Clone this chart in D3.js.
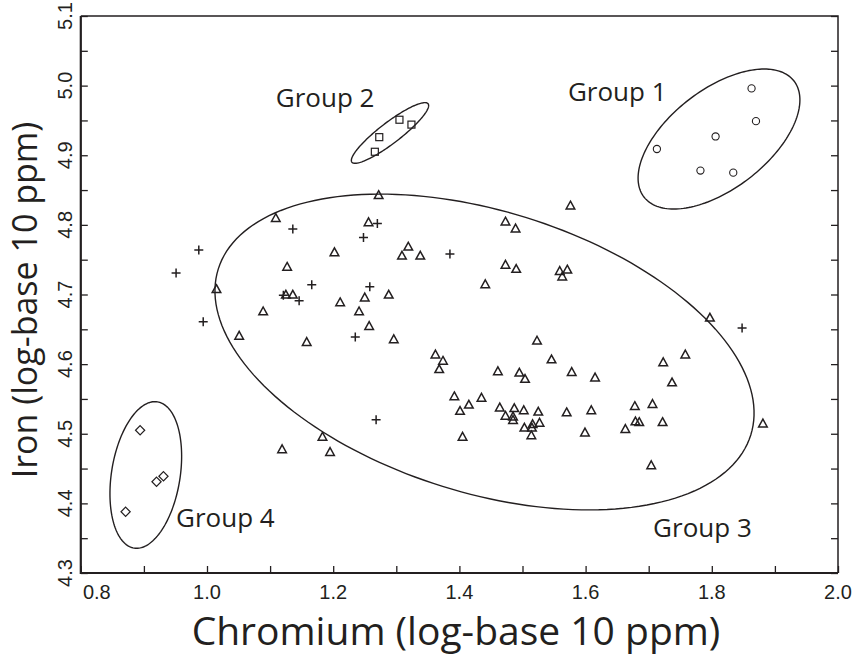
<!DOCTYPE html>
<html>
<head>
<meta charset="utf-8">
<title>Chromium vs Iron</title>
<script src="https://cdn.jsdelivr.net/npm/d3@7"></script>
<style>
    body { margin: 0; background: #fff; }
    .tick-label { font-family: "Liberation Sans Narrow", "Liberation Sans", Arial, sans-serif; font-size: 20px; fill: #231f20; }
    .title { font-family: "Open Sans", "Noto Sans", sans-serif; fill: #231f20; }
    .mark { fill: none; stroke: #231f20; }
</style>
</head>
<body>
<div id="chart"></div>
<script>
// axis ticks
var xTickValues = [0.8, 0.9, 1.0, 1.1, 1.2, 1.3, 1.4, 1.5, 1.6, 1.7, 1.8, 1.9, 2.0];
var xLabelValues = [0.8, 1.0, 1.2, 1.4, 1.6, 1.8, 2.0];
var xLabels = ["0.8", "1.0", "1.2", "1.4", "1.6", "1.8", "2.0"];
var yTickValues = [4.3, 4.35, 4.4, 4.45, 4.5, 4.55, 4.6, 4.65, 4.7, 4.75, 4.8, 4.85, 4.9, 4.95, 5.0, 5.05, 5.1];
var yLabelValues = [4.3, 4.4, 4.5, 4.6, 4.7, 4.8, 4.9, 5.0, 5.1];
var yLabels = ["4.3", "4.4", "4.5", "4.6", "4.7", "4.8", "4.9", "5.0", "5.1"];

// group 1 (circles)
var group1Cr = [1.863, 1.870, 1.806, 1.713, 1.782, 1.834];
var group1Fe = [4.996, 4.949, 4.927, 4.909, 4.878, 4.875];

// group 2 (squares)
var group2Cr = [1.305, 1.324, 1.273, 1.266];
var group2Fe = [4.951, 4.944, 4.926, 4.905];

// group 3 (triangles)
var group3Cr = [1.272, 1.109, 1.256, 1.202, 1.319, 1.309, 1.338, 1.127, 1.015, 1.125,
                1.136, 1.211, 1.250, 1.288, 1.089, 1.241, 1.257, 1.051, 1.158, 1.296,
                1.183, 1.119, 1.195, 1.576, 1.473, 1.489, 1.473, 1.490, 1.441, 1.559,
                1.571, 1.563, 1.797, 1.523, 1.362, 1.374, 1.368, 1.546, 1.461, 1.495,
                1.504, 1.578, 1.615, 1.392, 1.415, 1.435, 1.401, 1.464, 1.487, 1.502,
                1.525, 1.473, 1.485, 1.485, 1.570, 1.609, 1.527, 1.516, 1.515, 1.503,
                1.514, 1.599, 1.405, 1.758, 1.723, 1.737, 1.706, 1.678, 1.679, 1.685,
                1.722, 1.663, 1.704, 1.881];
var group3Fe = [4.843, 4.810, 4.804, 4.761, 4.769, 4.756, 4.756, 4.740, 4.708, 4.700,
                4.700, 4.689, 4.696, 4.700, 4.676, 4.676, 4.655, 4.641, 4.632, 4.636,
                4.496, 4.478, 4.474, 4.828, 4.805, 4.795, 4.743, 4.737, 4.715, 4.734,
                4.736, 4.726, 4.667, 4.634, 4.614, 4.605, 4.593, 4.607, 4.590, 4.588,
                4.579, 4.589, 4.581, 4.554, 4.542, 4.552, 4.533, 4.538, 4.537, 4.534,
                4.532, 4.526, 4.525, 4.520, 4.531, 4.534, 4.516, 4.514, 4.509, 4.509,
                4.498, 4.502, 4.496, 4.614, 4.603, 4.574, 4.543, 4.540, 4.518, 4.517,
                4.517, 4.507, 4.455, 4.515];

// group 4 (diamonds)
var group4Cr = [0.894, 0.931, 0.920, 0.871];
var group4Fe = [4.505, 4.439, 4.431, 4.388];

// unassigned (plus signs)
var otherCr = [1.270, 1.136, 1.248, 1.166, 1.258, 1.121, 1.146, 0.994, 1.235, 1.268, 1.385, 1.848, 0.951, 0.987];
var otherFe = [4.802, 4.794, 4.782, 4.714, 4.711, 4.699, 4.691, 4.661, 4.639, 4.520, 4.758, 4.652, 4.731, 4.764];

// group ellipses: centre and two half-axis vectors, all in data units
var ellipseNames = ["Group 1", "Group 2", "Group 3", "Group 4"];
var ellipseCr = [1.8114, 1.2900, 1.4398, 0.9030];
var ellipseFe = [4.9233, 4.9320, 4.6174, 4.4408];
var ellipseMajor = [[0.1189, 0.0833], [0.0604, 0.0419], [0.4220, -0.1191], [0.0185, 0.1050]];
var ellipseMinor = [[0.0480, -0.0563], [0.0101, -0.0119], [-0.0664, -0.1930], [0.0537, -0.0078]];

// group label anchors (start of text, baseline)
var labelCr = [1.572, 1.109, 1.707, 0.951];
var labelFe = [4.978, 4.970, 4.352, 4.366];

var width = 855, height = 671;
var plotL = 80.8, plotR = 838, plotT = 16, plotB = 573;
var tickLen = 7;

var svg = d3.select("#chart").append("svg")
    .attr("width", width)
    .attr("height", height)
    .style("background", "#fff");

var x = d3.scaleLinear().domain([0.8, 2.0]).range([plotL, plotR]);
var y = d3.scaleLinear().domain([4.3, 5.1]).range([plotB, plotT]);

function zip(a, b) {
    return a.map(function(v, i) { return [v, b[i]]; });
}

// axes (ticks inward)
var xAxis = svg.append("g").attr("transform", "translate(0," + plotB + ")")
    .call(d3.axisBottom(x).tickValues(xTickValues).tickSize(-tickLen).tickFormat(""));
var yAxis = svg.append("g").attr("transform", "translate(" + plotL + ",0)")
    .call(d3.axisLeft(y).tickValues(yTickValues).tickSize(-tickLen).tickFormat(""));
var yAxisR = svg.append("g").attr("transform", "translate(" + plotR + ",0)")
    .call(d3.axisRight(y).tickValues(yTickValues).tickSize(-tickLen).tickFormat(""));
[xAxis, yAxis, yAxisR].forEach(function(g) {
    g.select(".domain").remove();
    g.selectAll(".tick line").attr("stroke", "#231f20").attr("stroke-width", 1.3);
});

// frame: top and right a little lighter than the two axes
svg.append("path")
    .attr("d", "M" + plotL + "," + plotT + "H" + plotR + "V" + plotB)
    .attr("fill", "none").attr("stroke", "#231f20").attr("stroke-width", 1.5);
svg.append("path")
    .attr("d", "M" + plotL + "," + plotT + "V" + plotB + "H" + plotR)
    .attr("fill", "none").attr("stroke", "#231f20").attr("stroke-width", 2.2);

// tick labels
svg.append("g").selectAll("text").data(xLabelValues).enter().append("text")
    .attr("class", "tick-label")
    .attr("x", function(d, i) { return x(d) + (i == 0 ? 16 : 0); })
    .attr("y", plotB + 26)
    .attr("text-anchor", "middle")
    .text(function(d, i) { return xLabels[i]; });

svg.append("g").selectAll("text").data(yLabelValues).enter().append("text")
    .attr("class", "tick-label")
    .attr("transform", function(d) { return "translate(" + (plotL - 9) + "," + y(d) + ") rotate(-90)"; })
    .attr("text-anchor", "middle")
    .text(function(d, i) { return yLabels[i]; });

// axis titles
svg.append("text").attr("class", "title")
    .attr("x", 456).attr("y", 645)
    .attr("text-anchor", "middle")
    .style("font-size", "39px")
    .text("Chromium (log-base 10 ppm)");
svg.append("text").attr("class", "title")
    .attr("transform", "translate(37,300) rotate(-90)")
    .attr("text-anchor", "middle")
    .style("font-size", "34px")
    .text("Iron (log-base 10 ppm)");

// ellipses
var ellipseLine = d3.line()
    .x(function(d) { return x(d[0]); })
    .y(function(d) { return y(d[1]); })
    .curve(d3.curveLinearClosed);
var angles = d3.range(0, 360, 2);
ellipseNames.forEach(function(name, i) {
    var pts = angles.map(function(a) {
        var t = a * Math.PI / 180, c = Math.cos(t), s = Math.sin(t);
        return [ellipseCr[i] + ellipseMajor[i][0] * c + ellipseMinor[i][0] * s,
                ellipseFe[i] + ellipseMajor[i][1] * c + ellipseMinor[i][1] * s];
    });
    svg.append("path").attr("class", "mark")
        .attr("d", ellipseLine(pts))
        .attr("stroke-width", 1.4);
    svg.append("text").attr("class", "title")
        .attr("x", x(labelCr[i])).attr("y", y(labelFe[i]))
        .style("font-size", "26px")
        .text(name);
});

// markers
function place(d) { return "translate(" + x(d[0]) + "," + y(d[1]) + ")"; }

svg.append("g").selectAll("circle").data(zip(group1Cr, group1Fe)).enter().append("circle")
    .attr("class", "mark").attr("r", 3.6).attr("stroke-width", 1.1)
    .attr("cx", function(d) { return x(d[0]); })
    .attr("cy", function(d) { return y(d[1]); });

svg.append("g").selectAll("rect").data(zip(group2Cr, group2Fe)).enter().append("rect")
    .attr("class", "mark").attr("width", 7).attr("height", 7).attr("stroke-width", 1.2)
    .attr("x", function(d) { return x(d[0]) - 3.5; })
    .attr("y", function(d) { return y(d[1]) - 3.5; });

svg.append("g").selectAll("path").data(zip(group3Cr, group3Fe)).enter().append("path")
    .attr("class", "mark").attr("stroke-width", 1.5)
    .attr("d", "M0,-4.2L4.3,3.6L-4.3,3.6Z")
    .attr("transform", place);

svg.append("g").selectAll("path").data(zip(group4Cr, group4Fe)).enter().append("path")
    .attr("class", "mark").attr("stroke-width", 1.2)
    .attr("d", "M0,-4.6L4.6,0L0,4.6L-4.6,0Z")
    .attr("transform", place);

svg.append("g").selectAll("path").data(zip(otherCr, otherFe)).enter().append("path")
    .attr("class", "mark").attr("stroke-width", 1.5)
    .attr("d", "M-4.5,0H4.5M0,-4.5V4.5")
    .attr("transform", place);
</script>
</body>
</html>
